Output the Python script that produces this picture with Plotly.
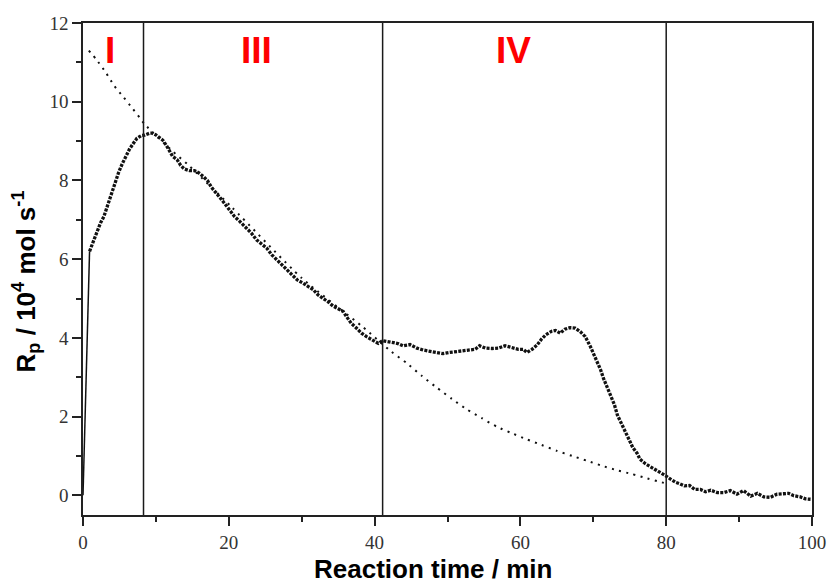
import plotly.graph_objects as go

# Measured polymerization rate (Rp / 10^4 mol s^-1) vs reaction time (min)
time_min = [0, 0.4, 0.9, 1.35, 1.9, 2.4, 2.86, 3.4, 3.87, 4.33, 4.88, 5.38, 5.93, 6.39, 6.94, 7.4,
            8.0, 8.45, 9.13, 9.5, 9.96, 10.5, 10.96, 11.4, 11.9, 12.3, 12.9, 13.4, 13.9, 14.6, 15.3,
            15.9, 16.5, 17.1, 17.6, 18.2, 18.85, 19.4, 20.1, 20.8, 21.5, 22.2, 23.1, 23.8, 24.5, 25.2,
            25.9, 26.5, 27.2, 27.9, 28.6, 29.4, 30.2, 30.9, 31.6, 32.25, 32.9, 33.6, 34.3, 35.0, 35.7,
            36.15, 36.8, 37.5, 38.2, 38.9, 39.7, 40.5, 41.1, 41.9, 42.6, 43.3, 43.9, 44.85, 45.8, 46.7,
            47.6, 48.5, 49.4, 50.3, 51.3, 52.2, 53.1, 53.8, 54.4, 55.2, 56.1, 57.0, 57.9, 58.8, 59.7,
            60.4, 60.9, 61.6, 62.3, 62.9, 63.5, 64.3, 64.8, 65.45, 66.1, 66.8, 67.5, 68.2, 68.9, 69.6,
            70.1, 70.6, 71.0, 71.4, 71.9, 72.4, 72.9, 73.3, 73.9, 74.5, 75.0, 75.4, 76.0, 76.4, 77.1,
            77.8, 78.5, 79.2, 79.9, 80.6, 81.3, 81.9, 82.5, 83.2, 83.9, 84.7, 85.4, 86.1, 87.0, 87.9,
            88.8, 89.7, 90.6, 91.6, 92.5, 93.4, 94.3, 95.2, 96.1, 96.8, 97.5, 98.4, 99.1, 99.8]
rate = [0, 2.7, 6.2, 6.42, 6.68, 6.92, 7.08, 7.38, 7.65, 7.93, 8.2, 8.42, 8.65, 8.8, 8.95, 9.07,
        9.14, 9.15, 9.2, 9.2, 9.16, 9.08, 9.02, 8.9, 8.76, 8.61, 8.53, 8.38, 8.29, 8.25, 8.25,
        8.19, 8.1, 7.99, 7.83, 7.68, 7.55, 7.42, 7.25, 7.08, 6.96, 6.83, 6.66, 6.49, 6.39, 6.28,
        6.11, 6.0, 5.9, 5.77, 5.64, 5.47, 5.39, 5.3, 5.22, 5.09, 5.01, 4.92, 4.81, 4.73, 4.67,
        4.54, 4.37, 4.25, 4.12, 4.03, 3.95, 3.86, 3.93, 3.91, 3.88, 3.85, 3.8, 3.83, 3.74, 3.69,
        3.66, 3.61, 3.6, 3.63, 3.65, 3.66, 3.68, 3.71, 3.8, 3.74, 3.73, 3.74, 3.8, 3.75, 3.71,
        3.71, 3.63, 3.71, 3.82, 3.97, 4.08, 4.17, 4.19, 4.12, 4.22, 4.26, 4.25, 4.16, 4.03, 3.78,
        3.57, 3.4, 3.19, 2.97, 2.76, 2.55, 2.3, 2.04, 1.79, 1.56, 1.38, 1.22, 1.07, 0.92, 0.81,
        0.73, 0.66, 0.58, 0.5, 0.41, 0.33, 0.29, 0.24, 0.25, 0.15, 0.15, 0.09, 0.13, 0.07, 0.07,
        0.12, 0.03, 0.12, -0.02, 0.05, -0.04, -0.05, 0.03, 0.05, 0.05, -0.01, -0.04, -0.09, -0.1]

# Fitted decay curve (dotted)
fit_time = [0.8, 1.8, 3.1, 4.3, 5.5, 6.75, 7.8, 8.5, 12.3, 14.4, 20.4, 30.0, 38.3, 42.3, 44.4,
            46.5, 48.5, 50.6, 52.6, 54.7, 56.8, 58.8, 60.9, 62.9, 65.0, 67.1, 69.1, 71.2, 73.2,
            75.3, 77.4, 79.4, 80.0]
fit_rate = [11.3, 11.08, 10.75, 10.4, 10.13, 9.84, 9.59, 9.42, 8.74, 8.4, 7.32, 5.52, 4.29, 3.65,
            3.36, 3.03, 2.74, 2.45, 2.19, 1.96, 1.74, 1.58, 1.42, 1.28, 1.13, 1.0, 0.88, 0.75,
            0.64, 0.54, 0.43, 0.33, 0.3]

# Stage boundaries and labels
boundaries = [8.3, 41.1, 80.0]
stage_labels = ["I", "III", "IV"]
stage_label_x = [3.65, 23.8, 59.0]
stage_label_y = [11.3, 11.3, 11.3]

x_ticks = [0, 20, 40, 60, 80, 100]
y_ticks = [0, 2, 4, 6, 8, 10, 12]

fig = go.Figure()

# fitted curve
fig.add_trace(go.Scatter(x=fit_time, y=fit_rate, mode="lines",
                         line=dict(color="#111111", width=2, dash="2px,5.4px", shape="spline", smoothing=0.6),
                         hoverinfo="skip", showlegend=False))
# initial rise (thin solid)
fig.add_trace(go.Scatter(x=time_min[:3], y=rate[:3], mode="lines",
                         line=dict(color="#111111", width=1.5), showlegend=False))
# measured data (dense dots)
fig.add_trace(go.Scatter(x=time_min[2:], y=rate[2:], mode="lines",
                         line=dict(color="#111111", width=3.3, dash="3px,1.3px"), showlegend=False))

for b in boundaries:
    fig.add_vline(x=b, line=dict(color="#1a1a1a", width=1.5))

for lbl, lx, ly in zip(stage_labels, stage_label_x, stage_label_y):
    fig.add_annotation(x=lx, y=ly, text="<b>%s</b>" % lbl, showarrow=False,
                       font=dict(family="Liberation Sans, Arial", size=37, color="#ff0000"),
                       xanchor="center", yanchor="middle")

# axis titles
fig.add_annotation(xref="paper", yref="paper", x=0.48, y=-0.11,
                   text="<b>Reaction time / min</b>", showarrow=False,
                   font=dict(family="Liberation Sans, Arial", size=26, color="black"),
                   xanchor="center", yanchor="middle")
fig.add_annotation(xref="paper", yref="paper", x=-0.078, y=0.475, textangle=-90,
                   text="<b>R<sub>p</sub> / 10<sup>4</sup> mol s<sup>-1</sup></b>", showarrow=False,
                   font=dict(family="Liberation Sans, Arial", size=26, color="black"),
                   xanchor="center", yanchor="middle")

axis_common = dict(showline=True, linecolor="#222222", linewidth=1.5, mirror=True,
                   ticks="outside", ticklen=9, tickwidth=1.5, tickcolor="#222222",
                   showgrid=False, zeroline=False, automargin=False,
                   tickfont=dict(family="Liberation Serif, Times New Roman", size=19, color="#333333"))

fig.update_xaxes(range=[0, 100], tickvals=x_ticks,
                 minor=dict(ticks="outside", ticklen=5, tickwidth=1.5, tickcolor="#222222", dtick=10),
                 **axis_common)
fig.update_yaxes(range=[-0.5, 12], tickvals=y_ticks,
                 minor=dict(ticks="outside", ticklen=5, tickwidth=1.5, tickcolor="#222222", dtick=1),
                 **axis_common)

fig.update_layout(width=829, height=585, margin=dict(l=83, r=17, t=23, b=70),
                  plot_bgcolor="white", paper_bgcolor="white", showlegend=False)

fig.write_html("out.html", config={"displayModeBar": False},
               post_script="document.body.style.margin='0';document.body.style.overflow='hidden';")
